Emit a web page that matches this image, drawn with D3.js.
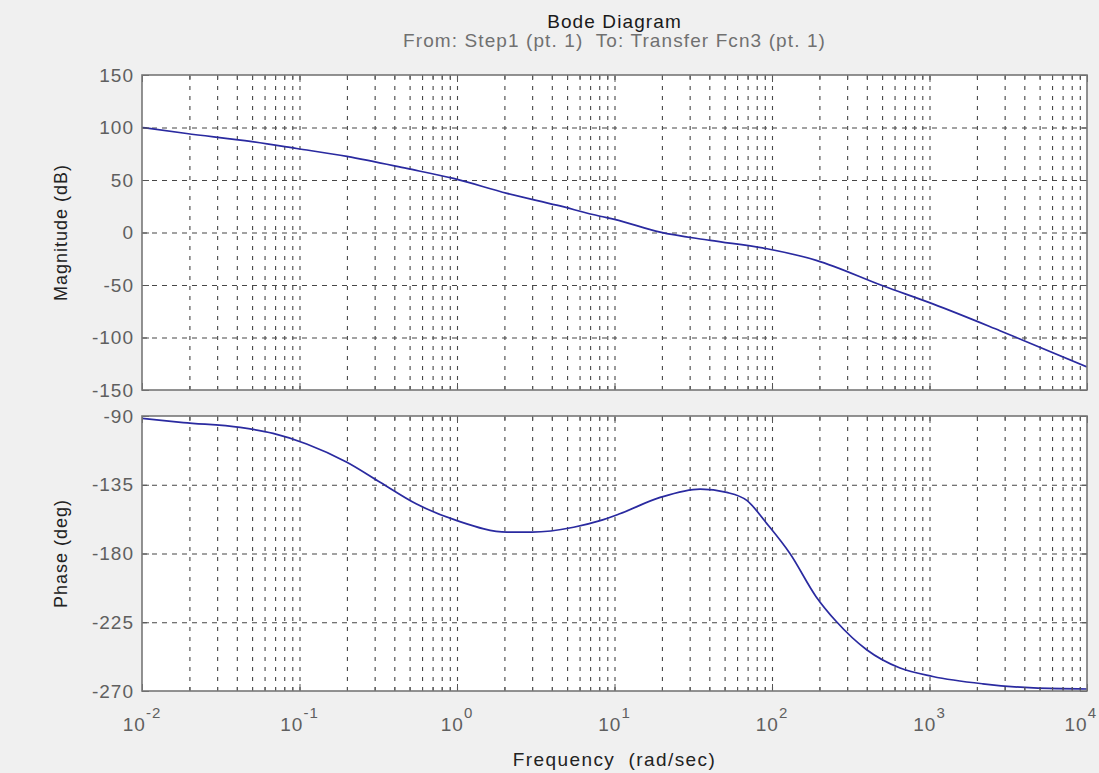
<!DOCTYPE html>
<html><head><meta charset="utf-8">
<script src="https://cdn.jsdelivr.net/npm/d3@7"></script>
<style>
body{margin:0;background:#f0f0f0;}
svg{display:block;}
text{font-family:"Liberation Sans",Arial,Helvetica,sans-serif;white-space:pre;}
</style>
</head><body>
<svg id="chart" width="1099" height="773"></svg>
<script>
// ---- data ----
const titleText = "Bode Diagram";
const subtitleText = "From: Step1 (pt. 1)  To: Transfer Fcn3 (pt. 1)";
const xLabelText = "Frequency  (rad/sec)";
const magLabelText = "Magnitude (dB)";
const phaseLabelText = "Phase (deg)";

const magFreq = [0.01, 0.0192, 0.05, 0.096, 0.2, 0.48, 0.95, 2.08, 4.3, 8.1, 10, 19.5, 40.6, 93, 191, 510, 1050, 2800, 10000];
const magDb   = [100, 94.3, 86.5, 80, 72.5, 61, 51.5, 37.3, 26, 15.5, 12.5, 0.3, -7.5, -15.5, -26.5, -51, -68, -93.5, -128];

const phaseFreq = [0.01, 0.0183, 0.042, 0.068, 0.111, 0.2, 0.325, 0.55, 1.0, 2.08, 3.0, 5.5, 8.1, 10.8, 19.5, 35, 51.6, 69.5, 93, 130, 191, 257, 399, 650, 1050, 2180, 4570, 10000];
const phaseDeg  = [-91.5, -94.3, -97.5, -101.4, -108.3, -120.3, -133.4, -147.5, -158.5, -166, -166, -162.8, -158.5, -154, -143.3, -137.8, -140, -145.4, -160.6, -180, -208.4, -224.7, -243, -255, -260.5, -265.3, -268, -268.7];

const magTicks = [150, 100, 50, 0, -50, -100, -150];
const phaseTicks = [-90, -135, -180, -225, -270];
const freqExponents = [-2, -1, 0, 1, 2, 3, 4];

// ---- layout ----
const W = 1099;
const L = 142, R = 1087;
const svg = d3.select("#chart");

const x = d3.scaleLog().domain([1e-2, 1e4]).range([L, R]);
const majorX = freqExponents.map(e => Math.pow(10, e));
const minorX = [];
freqExponents.slice(0, -1).forEach(e => { for (let k = 2; k <= 9; k++) minorX.push(k * Math.pow(10, e)); });
const gridX = majorX.slice(1, -1).concat(minorX);

const panels = [
  {top: 75, bot: 390, y: d3.scaleLinear().domain([-150, 150]).range([390, 75]), ticks: magTicks,
   f: magFreq, v: magDb, label: magLabelText, id: "mag"},
  {top: 416, bot: 691, y: d3.scaleLinear().domain([-270, -90]).range([691, 416]), ticks: phaseTicks,
   f: phaseFreq, v: phaseDeg, label: phaseLabelText, id: "ph"}
];

const gridColor = "#474747";
const borderColor = "#777";
const tickTextColor = "#5f5f5f";

panels.forEach(p => {
  const h = p.bot - p.top;
  svg.append("rect").attr("x", L).attr("y", p.top).attr("width", R - L).attr("height", h).attr("fill", "#fff");

  // vertical grid
  const gv = svg.append("g").attr("transform", `translate(0,${p.bot})`)
    .call(d3.axisBottom(x).tickValues(gridX).tickSize(-h).tickFormat(""));
  gv.select(".domain").remove();
  gv.selectAll("line").attr("stroke", gridColor).attr("stroke-dasharray", "4,6").attr("stroke-width", 1.1);

  // horizontal grid
  const interior = p.ticks.slice(1, -1);
  const gh = svg.append("g").attr("transform", `translate(${L},0)`)
    .call(d3.axisLeft(p.y).tickValues(interior).tickSize(-(R - L)).tickFormat(""));
  gh.select(".domain").remove();
  gh.selectAll("line").attr("stroke", gridColor).attr("stroke-dasharray", "5,5").attr("stroke-width", 1.1);

  // clip + curve
  svg.append("clipPath").attr("id", "clip-" + p.id).append("rect")
    .attr("x", L).attr("y", p.top).attr("width", R - L).attr("height", h);
  const pts = p.f.map((f, i) => [f, p.v[i]]);
  svg.append("path").datum(pts)
    .attr("clip-path", `url(#clip-${p.id})`)
    .attr("fill", "none").attr("stroke", "#2a2aa0").attr("stroke-width", 1.7)
    .attr("d", d3.line().x(d => x(d[0])).y(d => p.y(d[1])).curve(d3.curveMonotoneX));

  // inward tick marks
  const tickAxes = [
    [d3.axisBottom(x).tickValues(majorX).tickSize(-7), `translate(0,${p.bot})`],
    [d3.axisBottom(x).tickValues(minorX).tickSize(-4), `translate(0,${p.bot})`],
    [d3.axisTop(x).tickValues(majorX).tickSize(-7), `translate(0,${p.top})`],
    [d3.axisTop(x).tickValues(minorX).tickSize(-4), `translate(0,${p.top})`],
    [d3.axisLeft(p.y).tickValues(p.ticks).tickSize(-7), `translate(${L},0)`],
    [d3.axisRight(p.y).tickValues(p.ticks).tickSize(-7), `translate(${R},0)`]
  ];
  tickAxes.forEach(([ax, tr]) => {
    const g = svg.append("g").attr("transform", tr).call(ax.tickFormat(""));
    g.select(".domain").remove();
    g.selectAll("line").attr("stroke", "#555").attr("stroke-width", 1);
  });

  // border
  svg.append("rect").attr("x", L).attr("y", p.top).attr("width", R - L).attr("height", h)
    .attr("fill", "none").attr("stroke", borderColor).attr("stroke-width", 1.6);

  // y tick labels
  svg.append("g").selectAll("text").data(p.ticks).join("text")
    .attr("x", 134).attr("y", d => p.y(d)).attr("text-anchor", "end")
    .attr("dominant-baseline", "central").attr("font-size", 19).attr("letter-spacing", 1)
    .attr("fill", tickTextColor).text(d => d);

  // y label
  svg.append("text").attr("transform", `translate(67,${(p.top + p.bot) / 2}) rotate(-90)`)
    .attr("text-anchor", "middle").attr("font-size", 18).attr("letter-spacing", 1)
    .attr("fill", "#222").text(p.label);
});

// x tick labels (bottom panel only)
const xt = svg.append("g").selectAll("text").data(freqExponents).join("text")
  .attr("x", d => x(Math.pow(10, d))).attr("y", 731).attr("text-anchor", "middle")
  .attr("fill", tickTextColor).attr("font-size", 19).attr("letter-spacing", 1);
xt.append("tspan").text("10");
xt.append("tspan").attr("dy", -13).attr("font-size", 15).text(d => d);
// keep the last label inside the window
xt.each(function() {
  const b = this.getBBox();
  const over = b.x + b.width - (W - 2);
  if (over > 0) d3.select(this).attr("x", +d3.select(this).attr("x") - over);
});

// titles
const cx = (L + R) / 2;
svg.append("text").attr("x", cx).attr("y", 28).attr("text-anchor", "middle")
  .attr("font-size", 19).attr("letter-spacing", 1.1).attr("fill", "#1a1a1a").text(titleText);
svg.append("text").attr("x", cx).attr("y", 47).attr("text-anchor", "middle")
  .attr("font-size", 19).attr("letter-spacing", 1.1).attr("fill", "#707070").text(subtitleText);
svg.append("text").attr("x", cx).attr("y", 766).attr("text-anchor", "middle")
  .attr("font-size", 19).attr("letter-spacing", 1.4).attr("fill", "#222").text(xLabelText);
</script>
</body></html>
